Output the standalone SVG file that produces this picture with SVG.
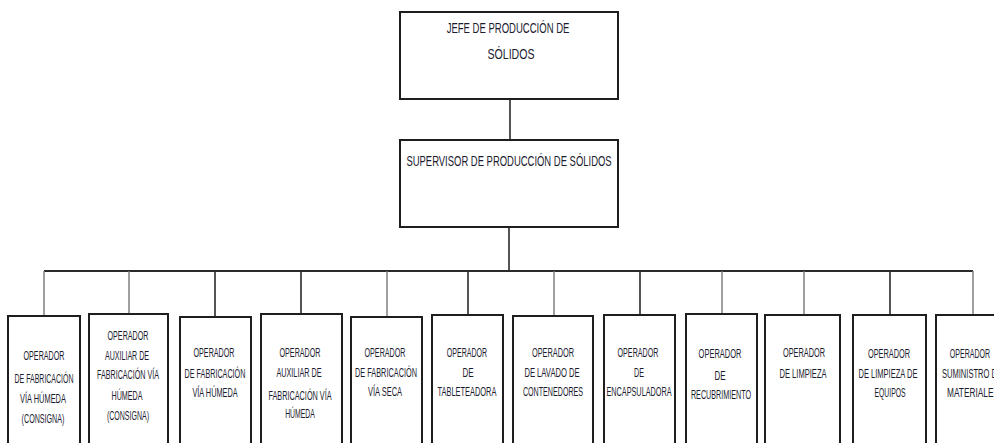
<svg xmlns="http://www.w3.org/2000/svg" width="994" height="443" viewBox="0 0 994 443">
<style>
.box{fill:#fff;stroke:#1e1e1e;stroke-width:2}
.ln{stroke:#2a2a2a;stroke-width:1.6;fill:none}
.lg{stroke:#777;stroke-width:1.4;fill:none}
text{font-family:"Liberation Sans",Arial,sans-serif;fill:#1c1c30;text-anchor:middle}
.t{font-size:15px}
.o{font-size:13px}
</style>
<rect width="994" height="443" fill="#fff"/>
<g id="connectors">
<line class="ln" x1="510" y1="99" x2="510" y2="140"/>
<line class="ln" x1="509" y1="227" x2="509" y2="271"/>
<line class="ln" x1="44" y1="271" x2="973" y2="271" style="stroke-width:2"/>
<line class="lg" x1="44" y1="271" x2="44" y2="316"/>
<line class="lg" x1="129" y1="271" x2="129" y2="314"/>
<line class="ln" x1="215" y1="271" x2="215" y2="317"/>
<line class="ln" x1="301" y1="271" x2="301" y2="314"/>
<line class="lg" x1="387" y1="271" x2="387" y2="317"/>
<line class="ln" x1="468" y1="271" x2="468" y2="315"/>
<line class="lg" x1="554" y1="271" x2="554" y2="316"/>
<line class="ln" x1="640" y1="271" x2="640" y2="315"/>
<line class="lg" x1="722" y1="271" x2="722" y2="314"/>
<line class="lg" x1="804" y1="271" x2="804" y2="315"/>
<line class="ln" x1="890" y1="271" x2="890" y2="315"/>
<line class="lg" x1="973" y1="271" x2="973" y2="315"/>
</g>
<g id="jefe">
<rect class="box" x="400" y="12" width="218" height="87"/>
<text class="t" transform="translate(508,33) scale(.62,1)" textLength="198" lengthAdjust="spacingAndGlyphs">JEFE DE PRODUCCIÓN DE</text>
<text class="t" transform="translate(511,59) scale(.62,1)" textLength="76" lengthAdjust="spacingAndGlyphs">SÓLIDOS</text>
</g>
<g id="supervisor">
<rect class="box" x="400" y="140" width="218" height="87"/>
<text class="t" transform="translate(509,166) scale(.62,1)" textLength="331" lengthAdjust="spacingAndGlyphs">SUPERVISOR DE PRODUCCIÓN DE SÓLIDOS</text>
</g>
<g id="op1">
<rect class="box" x="8" y="316" width="72" height="140"/>
<text class="o" transform="translate(44,360) scale(.62,1)" textLength="66" lengthAdjust="spacingAndGlyphs">OPERADOR</text>
<text class="o" transform="translate(44,383) scale(.62,1)" textLength="95" lengthAdjust="spacingAndGlyphs">DE FABRICACIÓN</text>
<text class="o" transform="translate(43,403) scale(.62,1)" textLength="74" lengthAdjust="spacingAndGlyphs">VÍA HÚMEDA</text>
<text class="o" transform="translate(43,423) scale(.62,1)" textLength="69" lengthAdjust="spacingAndGlyphs">(CONSIGNA)</text>
</g>
<g id="op2">
<rect class="box" x="89" y="314" width="79" height="140"/>
<text class="o" transform="translate(128,340) scale(.62,1)" textLength="66" lengthAdjust="spacingAndGlyphs">OPERADOR</text>
<text class="o" transform="translate(127,360) scale(.62,1)" textLength="71" lengthAdjust="spacingAndGlyphs">AUXILIAR DE</text>
<text class="o" transform="translate(128,379) scale(.62,1)" textLength="100" lengthAdjust="spacingAndGlyphs">FABRICACIÓN VÍA</text>
<text class="o" transform="translate(127,400) scale(.62,1)" textLength="50" lengthAdjust="spacingAndGlyphs">HÚMEDA</text>
<text class="o" transform="translate(128,420) scale(.62,1)" textLength="68" lengthAdjust="spacingAndGlyphs">(CONSIGNA)</text>
</g>
<g id="op3">
<rect class="box" x="180" y="317" width="71" height="140"/>
<text class="o" transform="translate(214,357) scale(.62,1)" textLength="66" lengthAdjust="spacingAndGlyphs">OPERADOR</text>
<text class="o" transform="translate(215,378) scale(.62,1)" textLength="98" lengthAdjust="spacingAndGlyphs">DE FABRICACIÓN</text>
<text class="o" transform="translate(215,397) scale(.62,1)" textLength="73" lengthAdjust="spacingAndGlyphs">VÍA HÚMEDA</text>
</g>
<g id="op4">
<rect class="box" x="261" y="314" width="81" height="140"/>
<text class="o" transform="translate(300,357) scale(.62,1)" textLength="66" lengthAdjust="spacingAndGlyphs">OPERADOR</text>
<text class="o" transform="translate(299,377) scale(.62,1)" textLength="73" lengthAdjust="spacingAndGlyphs">AUXILIAR DE</text>
<text class="o" transform="translate(300,400) scale(.62,1)" textLength="102" lengthAdjust="spacingAndGlyphs">FABRICACIÓN VÍA</text>
<text class="o" transform="translate(300,418) scale(.62,1)" textLength="48" lengthAdjust="spacingAndGlyphs">HÚMEDA</text>
</g>
<g id="op5">
<rect class="box" x="351" y="317" width="71" height="140"/>
<text class="o" transform="translate(385,357) scale(.62,1)" textLength="66" lengthAdjust="spacingAndGlyphs">OPERADOR</text>
<text class="o" transform="translate(386,377) scale(.62,1)" textLength="100" lengthAdjust="spacingAndGlyphs">DE FABRICACIÓN</text>
<text class="o" transform="translate(385,396) scale(.62,1)" textLength="55" lengthAdjust="spacingAndGlyphs">VÍA SECA</text>
</g>
<g id="op6">
<rect class="box" x="432" y="315" width="71" height="140"/>
<text class="o" transform="translate(467,357) scale(.62,1)" textLength="65" lengthAdjust="spacingAndGlyphs">OPERADOR</text>
<text class="o" transform="translate(468,377) scale(.62,1)" textLength="18" lengthAdjust="spacingAndGlyphs">DE</text>
<text class="o" transform="translate(467,396) scale(.62,1)" textLength="95" lengthAdjust="spacingAndGlyphs">TABLETEADORA</text>
</g>
<g id="op7">
<rect class="box" x="513" y="316" width="80" height="140"/>
<text class="o" transform="translate(553,357) scale(.62,1)" textLength="68" lengthAdjust="spacingAndGlyphs">OPERADOR</text>
<text class="o" transform="translate(552,377) scale(.62,1)" textLength="89" lengthAdjust="spacingAndGlyphs">DE LAVADO DE</text>
<text class="o" transform="translate(553,396) scale(.62,1)" textLength="97" lengthAdjust="spacingAndGlyphs">CONTENEDORES</text>
</g>
<g id="op8">
<rect class="box" x="604" y="315" width="71" height="140"/>
<text class="o" transform="translate(638,357) scale(.62,1)" textLength="66" lengthAdjust="spacingAndGlyphs">OPERADOR</text>
<text class="o" transform="translate(639,377) scale(.62,1)" textLength="16" lengthAdjust="spacingAndGlyphs">DE</text>
<text class="o" transform="translate(639,396) scale(.62,1)" textLength="105" lengthAdjust="spacingAndGlyphs">ENCAPSULADORA</text>
</g>
<g id="op9">
<rect class="box" x="686" y="314" width="71" height="140"/>
<text class="o" transform="translate(720,358) scale(.62,1)" textLength="69" lengthAdjust="spacingAndGlyphs">OPERADOR</text>
<text class="o" transform="translate(720,380) scale(.62,1)" textLength="18" lengthAdjust="spacingAndGlyphs">DE</text>
<text class="o" transform="translate(721,399) scale(.62,1)" textLength="97" lengthAdjust="spacingAndGlyphs">RECUBRIMIENTO</text>
</g>
<g id="op10">
<rect class="box" x="765" y="315" width="75" height="140"/>
<text class="o" transform="translate(804,357) scale(.62,1)" textLength="68" lengthAdjust="spacingAndGlyphs">OPERADOR</text>
<text class="o" transform="translate(803,378) scale(.62,1)" textLength="76" lengthAdjust="spacingAndGlyphs">DE LIMPIEZA</text>
</g>
<g id="op11">
<rect class="box" x="853" y="315" width="73" height="140"/>
<text class="o" transform="translate(889,358) scale(.62,1)" textLength="68" lengthAdjust="spacingAndGlyphs">OPERADOR</text>
<text class="o" transform="translate(888,378) scale(.62,1)" textLength="95" lengthAdjust="spacingAndGlyphs">DE LIMPIEZA DE</text>
<text class="o" transform="translate(890,397) scale(.62,1)" textLength="50" lengthAdjust="spacingAndGlyphs">EQUIPOS</text>
</g>
<g id="op12">
<rect class="box" x="936" y="315" width="74" height="140"/>
<text class="o" transform="translate(970,358) scale(.62,1)" textLength="65" lengthAdjust="spacingAndGlyphs">OPERADOR</text>
<text class="o" transform="translate(972,378) scale(.62,1)" textLength="97" lengthAdjust="spacingAndGlyphs">SUMINISTRO DE</text>
<text class="o" transform="translate(973,397) scale(.62,1)" textLength="84" lengthAdjust="spacingAndGlyphs">MATERIALES</text>
</g>
</svg>
